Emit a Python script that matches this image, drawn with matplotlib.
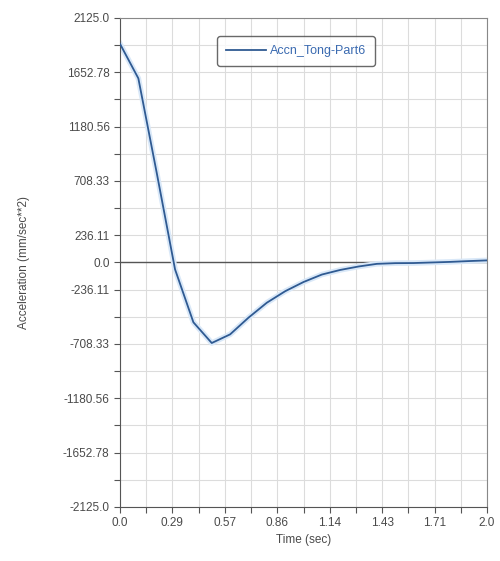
import numpy as np
import matplotlib
matplotlib.use('Agg')
import matplotlib.pyplot as plt
from matplotlib.ticker import FixedLocator

# values
time_sec = [0.0, 0.1, 0.2, 0.3, 0.4, 0.5, 0.6, 0.7, 0.8, 0.9, 1.0,
            1.1, 1.2, 1.3, 1.4, 1.5, 1.6, 1.7, 1.8, 1.9, 2.0]
accn = [1900, 1600, 780, -60, -520, -700, -625, -480, -350, -250, -170,
        -105, -65, -35, -12, -6, -5, 0, 5, 12, 18]
series_name = 'Accn_Tong-Part6'

y_max = 2125.0
x_max = 2.0
y_ticks = [2125.0, 1652.78, 1180.56, 708.33, 236.11, 0.0,
           -236.11, -708.33, -1180.56, -1652.78, -2125.0]
x_ticks = [0.0, 0.29, 0.57, 0.86, 1.14, 1.43, 1.71, 2.0]

plt.rcParams['font.family'] = ['Liberation Sans', 'DejaVu Sans']
text_col = '#4a4a4a'

fig = plt.figure(figsize=(5.0, 5.61), dpi=100)
ax = fig.add_axes([0.24, 0.0963, 0.734, 0.8717])

# grid every 1/9 of half-range on y and 1/7 of range on x
y_grid = np.linspace(-y_max, y_max, 19)
x_grid = np.linspace(0, x_max, 15)
for yy in y_grid:
    ax.axhline(yy, color='#dcdcdc', lw=0.8, zorder=0)
for xx in x_grid:
    ax.axvline(xx, color='#dcdcdc', lw=0.8, zorder=0)
ax.axhline(0, color='#555555', lw=1.0, zorder=1)

ax.plot(time_sec, accn, color='#d9e8f8', lw=4.0, solid_joinstyle='round',
        zorder=2)
ax.plot(time_sec, accn, color='#2f5a92', lw=1.3, label=series_name,
        zorder=3)

ax.set_xlim(0, x_max)
ax.set_ylim(-y_max, y_max)
ax.yaxis.set_major_locator(FixedLocator(y_ticks))
ax.set_yticklabels(['{0}'.format(v) for v in y_ticks])
ax.yaxis.set_minor_locator(FixedLocator(
    [v for v in y_grid if min(abs(v - t) for t in y_ticks) > 1]))
ax.xaxis.set_major_locator(FixedLocator(np.linspace(0, x_max, 8)))
ax.set_xticklabels(['{0}'.format(v) for v in x_ticks])
ax.xaxis.set_minor_locator(FixedLocator(x_grid[1::2]))

ax.tick_params(which='both', direction='out', length=4, width=0.8,
               color='#555555', labelsize=8.5, labelcolor=text_col)
for spine in ['left', 'bottom']:
    ax.spines[spine].set_color('#555555')
for spine in ['right', 'top']:
    ax.spines[spine].set_color('#888888')

ax.set_xlabel('Time (sec)', fontsize=8.5, color=text_col, labelpad=3)
ax.set_ylabel('Acceleration (mm/sec**2)', fontsize=8.5, color=text_col,
              labelpad=24)

leg = ax.legend(loc='upper center', bbox_to_anchor=(0.48, 0.975),
                fontsize=9, frameon=True, fancybox=True,
                handlelength=3.2, handletextpad=0.3, borderpad=0.7)
leg.get_frame().set_edgecolor('#444444')
leg.get_frame().set_linewidth(1.0)
for txt in leg.get_texts():
    txt.set_color('#3a6ab0')

fig.savefig('out.png', dpi=100)
